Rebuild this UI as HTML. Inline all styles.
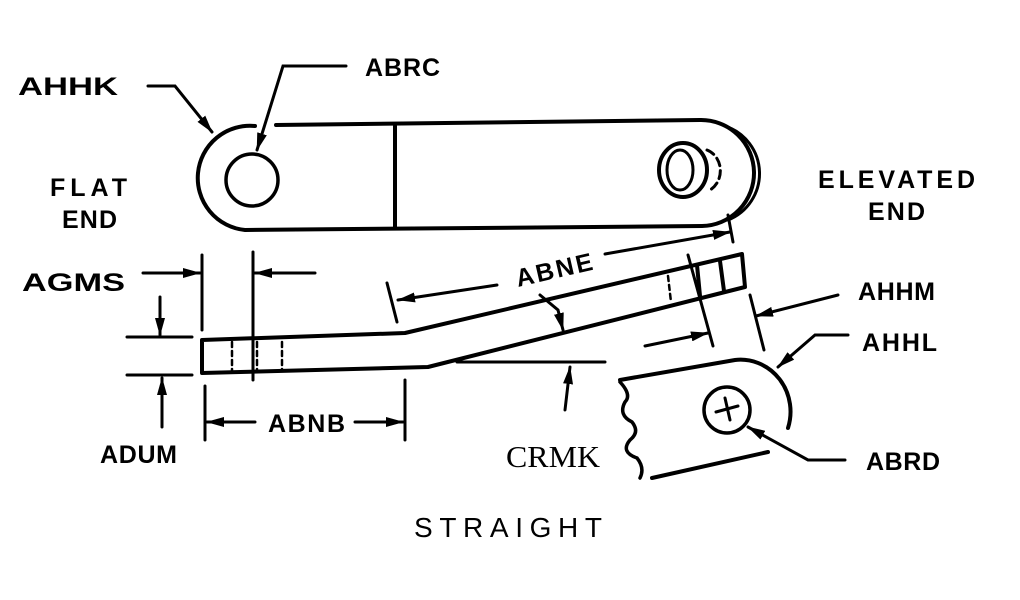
<!DOCTYPE html>
<html><head><style>
html,body{margin:0;padding:0;background:#fff;width:1020px;height:600px;overflow:hidden}
svg text{font-family:"Liberation Sans",sans-serif;font-weight:bold;font-size:25px;fill:#000}
</style></head><body>
<svg width="1020" height="600" viewBox="0 0 1020 600" xmlns="http://www.w3.org/2000/svg">
<defs><marker id="b" markerWidth="18" markerHeight="10" refX="17" refY="5" orient="auto" markerUnits="userSpaceOnUse"><path d="M0,0 L18,5 L0,10 z" fill="#000"/></marker></defs>
<g fill="none" stroke="#000" stroke-width="4" stroke-linecap="round">
<path d="M276,125 L700,120 A51,51 0 0 1 702,226 L245,230 A52,52 0 0 1 255,126"/>
<path d="M725,126 A50,50 0 0 1 728,220" stroke-width="3"/>
<circle cx="252" cy="180" r="26" stroke-width="3.5"/>
<line x1="395" y1="126" x2="395" y2="228"/>
<ellipse cx="683" cy="170" rx="24" ry="27"/>
<ellipse cx="680" cy="170" rx="13" ry="20" stroke-width="3"/>
<path d="M707,150 A20,22 0 0 1 710,190" stroke-dasharray="8,5" stroke-width="3"/>
<path d="M202,340 L405,333 L742,254 L745,287 L428,367 L202,373 Z" stroke-linejoin="round"/>
<g stroke-width="2.5" stroke-dasharray="5,4"><line x1="232" y1="342" x2="232" y2="371"/><line x1="257" y1="342" x2="257" y2="371"/><line x1="282" y1="342" x2="282" y2="370"/><line x1="668" y1="276" x2="671" y2="302"/></g>
<line x1="697" y1="265" x2="700" y2="296"/><line x1="720" y1="261" x2="724" y2="291"/>
<path d="M620,380 L735,360 A50,52 0 0 1 788,428"/>
<path d="M652,478 L768,452"/>
<path d="M620,382 Q632,395 625,402 Q618,415 632,422 Q640,432 630,440 Q620,452 637,458 Q645,468 640,478" stroke-width="3.5"/>
<circle cx="727" cy="410" r="23" stroke-width="3.5"/>
<line x1="716" y1="412" x2="738" y2="406" stroke-width="3"/><line x1="725" y1="398" x2="730" y2="420" stroke-width="3"/>
<g stroke-width="3">
<polyline points="148,86 175,86 212,132" marker-end="url(#b)"/>
<polyline points="346,66 283,66 257,150" marker-end="url(#b)"/>
<line x1="202" y1="255" x2="202" y2="330"/><line x1="253" y1="252" x2="253" y2="380"/>
<line x1="143" y1="273" x2="200" y2="273" marker-end="url(#b)"/>
<line x1="315" y1="273" x2="255" y2="273" marker-end="url(#b)"/>
<line x1="127" y1="337" x2="192" y2="337"/><line x1="127" y1="375" x2="192" y2="375"/>
<line x1="160" y1="297" x2="160" y2="335" marker-end="url(#b)"/>
<line x1="162" y1="427" x2="162" y2="378" marker-end="url(#b)"/>
<line x1="205" y1="386" x2="205" y2="440"/><line x1="405" y1="380" x2="405" y2="440"/>
<line x1="255" y1="422" x2="207" y2="422" marker-end="url(#b)"/>
<line x1="355" y1="422" x2="403" y2="422" marker-end="url(#b)"/>
<line x1="387" y1="283" x2="397" y2="322"/><line x1="728" y1="215" x2="733" y2="242"/>
<line x1="497" y1="285" x2="398" y2="300" marker-end="url(#b)"/>
<line x1="605" y1="254" x2="730" y2="232" marker-end="url(#b)"/>
<polyline points="540,295 558,310 563,330" marker-end="url(#b)"/>
<line x1="457" y1="362" x2="605" y2="362"/>
<line x1="565" y1="410" x2="570" y2="367" marker-end="url(#b)"/>
<line x1="688" y1="255" x2="713" y2="346"/><line x1="750" y1="295" x2="764" y2="350"/>
<line x1="645" y1="346" x2="708" y2="333" marker-end="url(#b)"/>
<line x1="838" y1="295" x2="756" y2="316" marker-end="url(#b)"/>
<polyline points="848,335 815,335 778,367" marker-end="url(#b)"/>
<polyline points="845,460 808,460 748,427" marker-end="url(#b)"/>
</g>
</g>
<text x="18" y="95" textLength="100" lengthAdjust="spacingAndGlyphs">AHHK</text>
<text x="365" y="76" textLength="75" lengthAdjust="spacing">ABRC</text>
<text x="50" y="196" textLength="77" lengthAdjust="spacing">FLAT</text>
<text x="62" y="228" textLength="55" lengthAdjust="spacing">END</text>
<text x="22" y="291" textLength="103" lengthAdjust="spacingAndGlyphs">AGMS</text>
<text x="100" y="463" textLength="77" lengthAdjust="spacing">ADUM</text>
<text x="268" y="432" textLength="77" lengthAdjust="spacing">ABNB</text>
<text x="0" y="0" transform="translate(518,287) rotate(-13)" textLength="78" lengthAdjust="spacing">ABNE</text>
<text x="506" y="467" textLength="94" lengthAdjust="spacingAndGlyphs" style="font-family:'Liberation Serif',serif;font-weight:normal;font-size:31px">CRMK</text>
<text x="414" y="537" textLength="188" lengthAdjust="spacing" style="font-weight:normal;font-size:28px">STRAIGHT</text>
<text x="818" y="188" textLength="157" lengthAdjust="spacing">ELEVATED</text>
<text x="868" y="220" textLength="57" lengthAdjust="spacing">END</text>
<text x="858" y="300" textLength="77" lengthAdjust="spacing">AHHM</text>
<text x="862" y="351" textLength="75" lengthAdjust="spacing">AHHL</text>
<text x="866" y="470" textLength="74" lengthAdjust="spacing">ABRD</text>
</svg>
</body></html>
